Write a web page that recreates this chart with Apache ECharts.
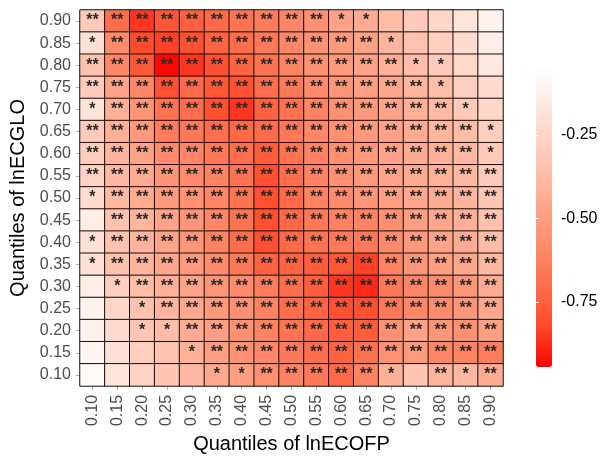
<!DOCTYPE html>
<html>
<head>
<meta charset="utf-8">
<script src="https://cdn.jsdelivr.net/npm/echarts@6/dist/echarts.min.js"></script>
<style>
  html, body { margin: 0; padding: 0; background: #ffffff; }
  #chart { width: 603px; height: 459px; }
</style>
</head>
<body>
<div id="chart"></div>
<script>
// Quantile levels on each axis
const xQuantiles = ['0.10','0.15','0.20','0.25','0.30','0.35','0.40','0.45','0.50',
                    '0.55','0.60','0.65','0.70','0.75','0.80','0.85','0.90'];
const yQuantiles = ['0.10','0.15','0.20','0.25','0.30','0.35','0.40','0.45','0.50',
                    '0.55','0.60','0.65','0.70','0.75','0.80','0.85','0.90'];

// Quantile-on-quantile estimates, one row per lnECGLO quantile,
// listed from 0.90 (top row) down to 0.10 (bottom row); columns follow xQuantiles.
const estimates = [
  [-0.30,-0.70,-0.86,-0.78,-0.75,-0.72,-0.68,-0.64,-0.60,-0.56,-0.48,-0.44,-0.36,-0.30,-0.24,-0.18,-0.12],
  [-0.20,-0.58,-0.82,-0.84,-0.80,-0.74,-0.70,-0.66,-0.60,-0.56,-0.52,-0.48,-0.40,-0.34,-0.28,-0.22,-0.14],
  [-0.34,-0.60,-0.78,-0.93,-0.86,-0.80,-0.74,-0.68,-0.62,-0.56,-0.52,-0.48,-0.42,-0.36,-0.30,-0.24,-0.16],
  [-0.30,-0.48,-0.60,-0.80,-0.72,-0.78,-0.80,-0.70,-0.66,-0.58,-0.54,-0.50,-0.46,-0.40,-0.36,-0.28,-0.22],
  [-0.18,-0.42,-0.54,-0.68,-0.70,-0.80,-0.86,-0.74,-0.68,-0.62,-0.56,-0.52,-0.48,-0.42,-0.38,-0.30,-0.24],
  [-0.30,-0.42,-0.52,-0.64,-0.66,-0.70,-0.72,-0.70,-0.66,-0.60,-0.56,-0.52,-0.48,-0.44,-0.40,-0.36,-0.28],
  [-0.28,-0.40,-0.48,-0.58,-0.60,-0.66,-0.70,-0.76,-0.68,-0.62,-0.56,-0.52,-0.48,-0.44,-0.42,-0.38,-0.30],
  [-0.26,-0.38,-0.44,-0.54,-0.58,-0.62,-0.68,-0.80,-0.70,-0.62,-0.56,-0.52,-0.48,-0.44,-0.42,-0.38,-0.30],
  [-0.22,-0.38,-0.44,-0.52,-0.56,-0.60,-0.68,-0.80,-0.72,-0.62,-0.58,-0.54,-0.50,-0.46,-0.44,-0.40,-0.32],
  [-0.14,-0.34,-0.40,-0.48,-0.54,-0.60,-0.68,-0.80,-0.72,-0.66,-0.62,-0.62,-0.56,-0.50,-0.46,-0.42,-0.34],
  [-0.20,-0.34,-0.40,-0.48,-0.54,-0.62,-0.70,-0.80,-0.72,-0.68,-0.66,-0.66,-0.58,-0.52,-0.48,-0.44,-0.36],
  [-0.20,-0.34,-0.40,-0.46,-0.52,-0.58,-0.66,-0.74,-0.74,-0.76,-0.78,-0.84,-0.62,-0.54,-0.50,-0.46,-0.38],
  [-0.14,-0.28,-0.36,-0.42,-0.48,-0.54,-0.58,-0.64,-0.70,-0.76,-0.86,-0.88,-0.66,-0.60,-0.58,-0.54,-0.44],
  [-0.12,-0.24,-0.34,-0.40,-0.46,-0.52,-0.56,-0.62,-0.70,-0.74,-0.80,-0.80,-0.66,-0.60,-0.58,-0.54,-0.46],
  [-0.12,-0.22,-0.32,-0.36,-0.44,-0.50,-0.56,-0.62,-0.68,-0.72,-0.76,-0.76,-0.56,-0.48,-0.54,-0.56,-0.50],
  [-0.10,-0.20,-0.28,-0.34,-0.42,-0.50,-0.56,-0.60,-0.66,-0.70,-0.74,-0.68,-0.56,-0.52,-0.60,-0.62,-0.64],
  [-0.08,-0.18,-0.26,-0.32,-0.38,-0.46,-0.50,-0.56,-0.62,-0.66,-0.72,-0.62,-0.42,-0.32,-0.40,-0.38,-0.44]
];

// Significance codes in the same row order: 2 = '**', 1 = '*', 0 = not significant
const significance = [
  '22222222221100000',
  '12222222222210000',
  '22222222222221100',
  '22222222222222100',
  '12222222222222210',
  '22222222222222221',
  '22222222222222221',
  '22222222222222222',
  '12222222222222222',
  '02222222222222222',
  '12222222222222222',
  '12222222222222222',
  '01222222222222222',
  '00122222222222222',
  '00112222222222222',
  '00001222222222222',
  '00000112222210212'
];

// Colour scale range and the labelled breaks of the colour bar
const scaleMin = -0.945;
const scaleMax = -0.055;
const legendTicks = [-0.75, -0.50, -0.25];
// Red-to-white ramp sampled at even steps (interpolated in Lab space)
const rampColors = ['#ff0000', '#ff4628', '#ff6846', '#ff8464', '#ff9e81',
                    '#ffb7a0', '#ffcfbf', '#ffe7de', '#ffffff'];

const starText = ['', '*', '**'];
const cells = [];
estimates.forEach((row, r) => {
  const yi = yQuantiles.length - 1 - r;
  row.forEach((v, xi) => {
    cells.push([xi, yi, v, starText[+significance[r][xi]]]);
  });
});

const chart = echarts.init(document.getElementById('chart'), null, { renderer: 'canvas' });
const axisTextColor = '#4d4d4d';
const fontFamily = 'Liberation Sans, Arial, sans-serif';

chart.setOption({
  animation: false,
  backgroundColor: '#ffffff',
  textStyle: { fontFamily: fontFamily },
  grid: [
    { left: 78, top: 10, width: 425, height: 382, containLabel: false },
    { left: 536, top: 70, width: 16, height: 297, containLabel: false }
  ],
  xAxis: [
    {
      type: 'category', gridIndex: 0, data: xQuantiles,
      axisLine: { show: false },
      axisTick: { show: true, alignWithLabel: true, length: 4, lineStyle: { color: '#b3b3b3' } },
      axisLabel: { rotate: 90, fontSize: 16, color: axisTextColor, margin: 9 },
      splitLine: { show: false },
      name: 'Quantiles of lnECOFP', nameLocation: 'middle', nameGap: 40,
      nameTextStyle: { fontSize: 20, color: '#000000' }
    },
    { type: 'value', gridIndex: 1, min: 0, max: 1, show: false }
  ],
  yAxis: [
    {
      type: 'category', gridIndex: 0, data: yQuantiles,
      axisLine: { show: false },
      axisTick: { show: true, alignWithLabel: true, length: 4, lineStyle: { color: '#b3b3b3' } },
      axisLabel: { fontSize: 16, color: axisTextColor, margin: 9 },
      splitLine: { show: false },
      name: 'Quantiles of lnECGLO', nameLocation: 'middle', nameRotate: 90, nameGap: 52,
      nameTextStyle: { fontSize: 20, color: '#000000' }
    },
    {
      type: 'value', gridIndex: 1, min: scaleMin, max: scaleMax, position: 'right', z: 10,
      axisLine: { show: false },
      splitLine: { show: false },
      axisTick: { show: true, inside: true, length: 3, customValues: legendTicks,
                  lineStyle: { color: '#ffffff', width: 1 } },
      axisLabel: { customValues: legendTicks, fontSize: 16, color: '#000000', margin: 9,
                   formatter: v => v.toFixed(2) }
    },
    {
      type: 'value', gridIndex: 1, min: scaleMin, max: scaleMax, position: 'left', z: 10,
      axisLine: { show: false },
      splitLine: { show: false },
      axisTick: { show: true, inside: true, length: 3, customValues: legendTicks,
                  lineStyle: { color: '#ffffff', width: 1 } },
      axisLabel: { show: false }
    }
  ],
  visualMap: {
    type: 'continuous',
    seriesIndex: 0, dimension: 2,
    min: scaleMin, max: scaleMax,
    calculable: false, show: true,
    left: 536, top: 70, padding: 0,
    itemWidth: 16, itemHeight: 297,
    text: null,
    inRange: { color: rampColors }
  },
  series: [{
    type: 'heatmap',
    xAxisIndex: 0, yAxisIndex: 0,
    data: cells,
    itemStyle: { borderColor: '#111111', borderWidth: 1 },
    label: {
      show: true,
      formatter: p => p.value[3],
      color: '#2a2a2a', fontSize: 16, fontWeight: 'bold'
    },
    emphasis: { disabled: true }
  }]
});
</script>
</body>
</html>
